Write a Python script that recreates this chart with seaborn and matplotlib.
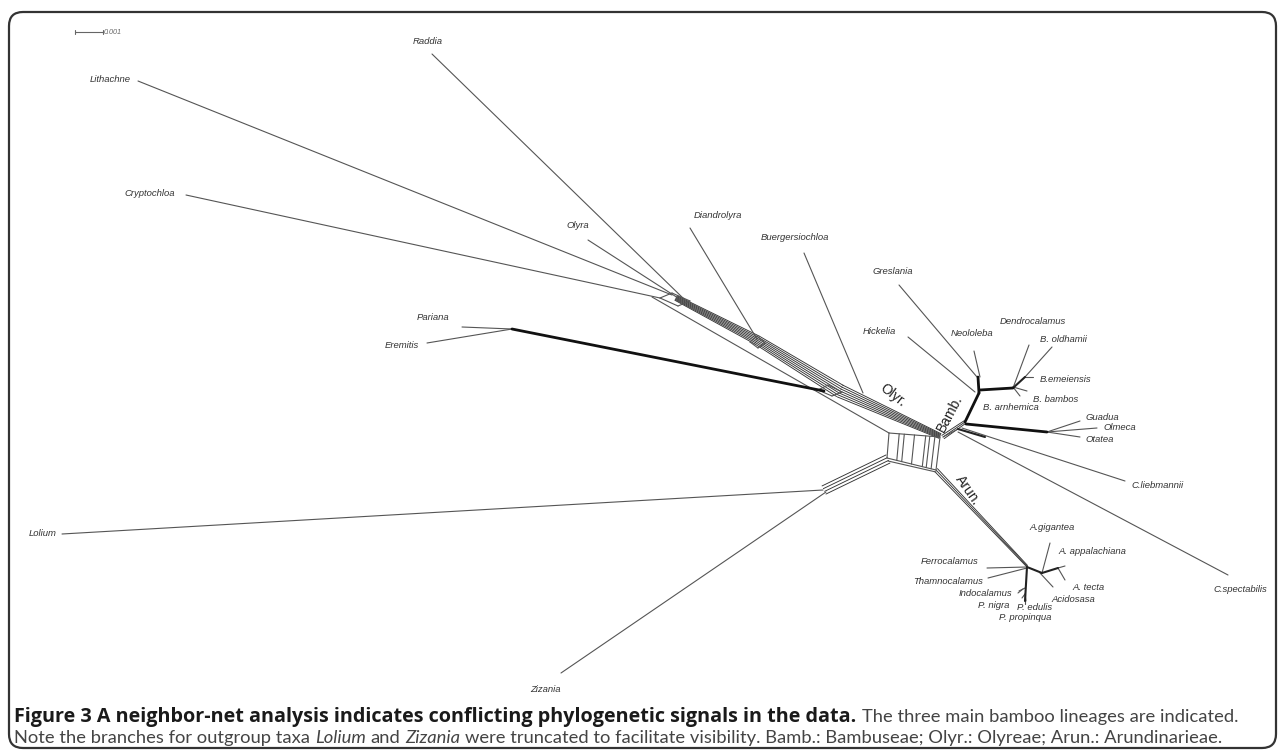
import matplotlib
matplotlib.use("Agg")
import matplotlib.pyplot as plt
from matplotlib.patches import FancyBboxPatch
import numpy as np
import pandas as pd
import seaborn as sns

sns.set_theme(style="white")
plt.rcParams['font.family'] = ['Liberation Sans', 'DejaVu Sans']

# ---------------- data (image units, y grows downwards) ----------------
taxa = ["Lithachne", "Raddia", "Cryptochloa", "Olyra", "Diandrolyra", "Buergersiochloa",
        "Pariana", "Eremitis", "Lolium", "Zizania", "Greslania", "Hickelia", "Neololeba",
        "Dendrocalamus", "B. oldhamii", "B.emeiensis", "B. bambos", "B. arnhemica",
        "Guadua", "Olmeca", "Otatea", "C.liebmannii", "C.spectabilis", "Ferrocalamus",
        "Thamnocalamus", "Indocalamus", "P. nigra", "P. edulis", "P. propinqua",
        "A.gigantea", "A. appalachiana", "A. tecta", "Acidosasa"]
label_x = [110, 428, 150, 578, 718, 795, 433, 402, 43, 545, 893, 879, 972, 1033, 1063, 1066,
           1056, 1011, 1102, 1120, 1100, 1158, 1240, 950, 948, 985, 994, 1035, 1025, 1052,
           1092, 1089, 1073]
label_y = [79, 42, 193, 226, 216, 238, 318, 346, 533, 690, 271, 332, 334, 322, 339, 379, 399,
           407, 417, 428, 439, 486, 590, 561, 582, 593, 606, 607, 618, 528, 552, 587, 600]
tip_x = [138, 432, 186, 588, 690, 804, 462, 427, 62, 561, 899, 908, 974, 1029, 1052, 1033,
         1027, 1020, 1080, 1097, 1080, 1125, 1228, 987, 988, 1019, 1022, 1026, 1025, 1050,
         1065, 1065, 1053]
tip_y = [81, 54, 195, 240, 228, 253, 327, 343, 534, 673, 285, 337, 351, 345, 347, 377, 391,
         396, 421, 428, 437, 481, 575, 568, 578, 591, 598, 601, 604, 543, 566, 580, 587]
base_x = [672, 685, 660, 678, 757, 863, 512, 512, 823, 826, 977, 975, 980, 1013, 1025, 1025,
          1013, 1013, 1047, 1047, 1047, 962, 958, 1027, 1027, 1025, 1025, 1025, 1025, 1042,
          1058, 1058, 1040]
base_y = [295, 300, 298, 298, 339, 393, 329, 329, 490, 492, 377, 392, 377, 388, 377, 377,
          387, 387, 432, 432, 432, 428, 432, 567, 568, 588, 594, 594, 594, 573, 568, 568, 573]

# internal splits-graph edges: x0, y0, x1, y1, weight class
edge_x0 = [660, 672, 660, 678, 750, 757, 750, 758, 818, 828, 818, 832,
           889, 940, 889, 887, 888, 652, 943, 958, 512, 965, 979, 980, 1013, 966,
           1027, 1042, 1027, 1023]
edge_y0 = [298, 293, 298, 306, 342, 336, 342, 348, 390, 385, 390, 396,
           433, 437, 433, 458, 461, 297, 437, 429, 329, 422, 393, 390, 388, 424,
           567, 573, 567, 589]
edge_x1 = [672, 690, 678, 690, 757, 765, 758, 765, 828, 842, 832, 842,
           887, 936, 940, 936, 936, 889, 958, 985, 824, 979, 978, 1013, 1025, 1047,
           1042, 1058, 1025, 1018]
edge_y1 = [293, 301, 306, 301, 336, 343, 348, 343, 385, 392, 396, 392,
           458, 470, 437, 470, 472, 433, 429, 437, 391, 393, 377, 388, 377, 432,
           573, 568, 601, 593]
edge_w = ["thin"] * 12 + ["thin"] * 7 + ["mid", "thick", "thick", "thick", "thick", "mid",
                                           "thick", "mid", "mid", "mid", "thin"]

# parallel bundles (neighbor-net boxes), as centre polylines
bundle_names = ["Olyreae", "Outgroups", "Arundinarieae", "Bambuseae"]
bundle_x = [[676, 757, 840, 940], [824, 888], [936, 1027], [943, 965]]
bundle_y = [[298, 340, 391, 436], [490, 459], [470, 566], [437, 422]]
bundle_spread = [[5, 9, 13, 5], [9, 9], [4, 1.5], [4, 3]]
bundle_count = [7, 4, 3, 3]

# box separators (fraction along the central box)
box_top = [(889, 433), (940, 437)]
box_bottom = [(887, 458), (936, 470)]
box_splits = [0.2, 0.3, 0.5, 0.72, 0.8, 0.9]

groups = ["Olyr.", "Bamb.", "Arun."]
group_x = [893, 950, 968]
group_y = [395, 413, 490]
group_rot = [-38, 62, -55]

# ---------------- build segment table ----------------
rows = []
seg = 0


def add(x0, y0, x1, y1, w):
    global seg
    rows.append((seg, x0, y0, w))
    rows.append((seg, x1, y1, w))
    seg += 1


for i in range(len(taxa)):
    add(tip_x[i], tip_y[i], base_x[i], base_y[i], "thin")
for i in range(len(edge_x0)):
    add(edge_x0[i], edge_y0[i], edge_x1[i], edge_y1[i], edge_w[i])

for bx, by, bs, n in zip(bundle_x, bundle_y, bundle_spread, bundle_count):
    for k in range(len(bx) - 1):
        d = np.array([bx[k + 1] - bx[k], by[k + 1] - by[k]], float)
        nrm = np.array([-d[1], d[0]]) / np.hypot(*d)
        o0 = np.linspace(-bs[k] / 2, bs[k] / 2, n)
        o1 = np.linspace(-bs[k + 1] / 2, bs[k + 1] / 2, n)
        for a, b in zip(o0, o1):
            add(bx[k] + a * nrm[0], by[k] + a * nrm[1],
                bx[k + 1] + b * nrm[0], by[k + 1] + b * nrm[1], "bundle")

(tx0, ty0), (tx1, ty1) = box_top
(bx0, by0), (bx1, by1) = box_bottom
for f in box_splits:
    add(tx0 + f * (tx1 - tx0), ty0 + f * (ty1 - ty0),
        bx0 + f * (bx1 - bx0), by0 + f * (by1 - by0), "thin")

df = pd.DataFrame(rows, columns=["seg", "x", "y", "w"])

# ---------------- draw ----------------
fig = plt.figure(figsize=(12.84, 7.51), dpi=100)
ax = fig.add_axes([0, 0, 1, 1])

styles = {"bundle": ("#333333", 0.65), "thin": ("#555555", 0.8),
          "mid": ("#222222", 1.5), "thick": ("#111111", 2.0)}
for w, (c, lw) in styles.items():
    sub = df[df.w == w]
    sns.lineplot(data=sub, x="x", y="y", units="seg", estimator=None, sort=False,
                 color=c, linewidth=lw, ax=ax, legend=False)

for name, lx, ly in zip(taxa, label_x, label_y):
    ax.text(lx, ly, name, ha="center", va="center", fontsize=6.8, style="italic",
            color="#333333")

for g, gx, gy, r in zip(groups, group_x, group_y, group_rot):
    ax.text(gx, gy, g, ha="center", va="center", fontsize=10, rotation=r,
            color="#222222", rotation_mode="anchor")

# scale bar
ax.plot([75, 103], [32, 32], color="#666666", lw=0.8)
ax.plot([75, 75], [30, 34], color="#666666", lw=0.8)
ax.plot([103, 103], [30, 34], color="#666666", lw=0.8)
ax.text(104, 32.5, "0.001", fontsize=5.2, style="italic", color="#666666", va="center")

# frame
ax.add_patch(FancyBboxPatch((9, 12), 1267, 736, boxstyle="round,pad=0,rounding_size=14",
                            fill=False, edgecolor="#333333", lw=1.6))

ax.set_xlim(0, 1284)
ax.set_ylim(751, 0)
ax.axis("off")

# caption, pieces laid out one after the other
bold_font = ['Open Sans', 'DejaVu Sans']
reg_font = ['Lato', 'Roboto', 'DejaVu Sans']
cap_bold = "Figure 3 A neighbor-net analysis indicates conflicting phylogenetic signals in the data."
line1_rest = ["The three main bamboo lineages are indicated."]
line2 = ["Note the branches for outgroup taxa", "Lolium", "and", "Zizania",
         "were truncated to facilitate visibility. Bamb.: Bambuseae; Olyr.: Olyreae; Arun.: Arundinarieae."]
line2_style = ["normal", "italic", "normal", "italic", "normal"]

renderer = fig.canvas.get_renderer()


def put(x, y, txt, size, fam, wt="normal", st="normal", col="#444444"):
    t = ax.text(x, y, txt, fontsize=size, fontweight=wt, style=st, color=col,
                family=fam, va="center", ha="left")
    return t, t.get_window_extent(renderer).width


# fit sizes to the widths seen in the reference
t, wb = put(0, -50, cap_bold, 10, bold_font, "bold")
t.remove()
size_b = 10 * 846 / wb
w2 = 0
for txt, st in zip(line2, line2_style):
    t, w = put(0, -50, txt, 10, reg_font, st=st)
    t.remove()
    w2 += w
w2 += 4 * 0.36 * 10
size_r = 10 * 1210 / w2

x0 = 14
t, w = put(x0, 717, cap_bold, size_b, bold_font, "bold", col="#1a1a1a")
put(x0 + w + 0.45 * size_r, 717, line1_rest[0], size_r, reg_font)
x = x0
for txt, st in zip(line2, line2_style):
    t, w = put(x, 738, txt, size_r, reg_font, st=st)
    x += w + 0.36 * size_r

fig.savefig("out.png", dpi=100)
